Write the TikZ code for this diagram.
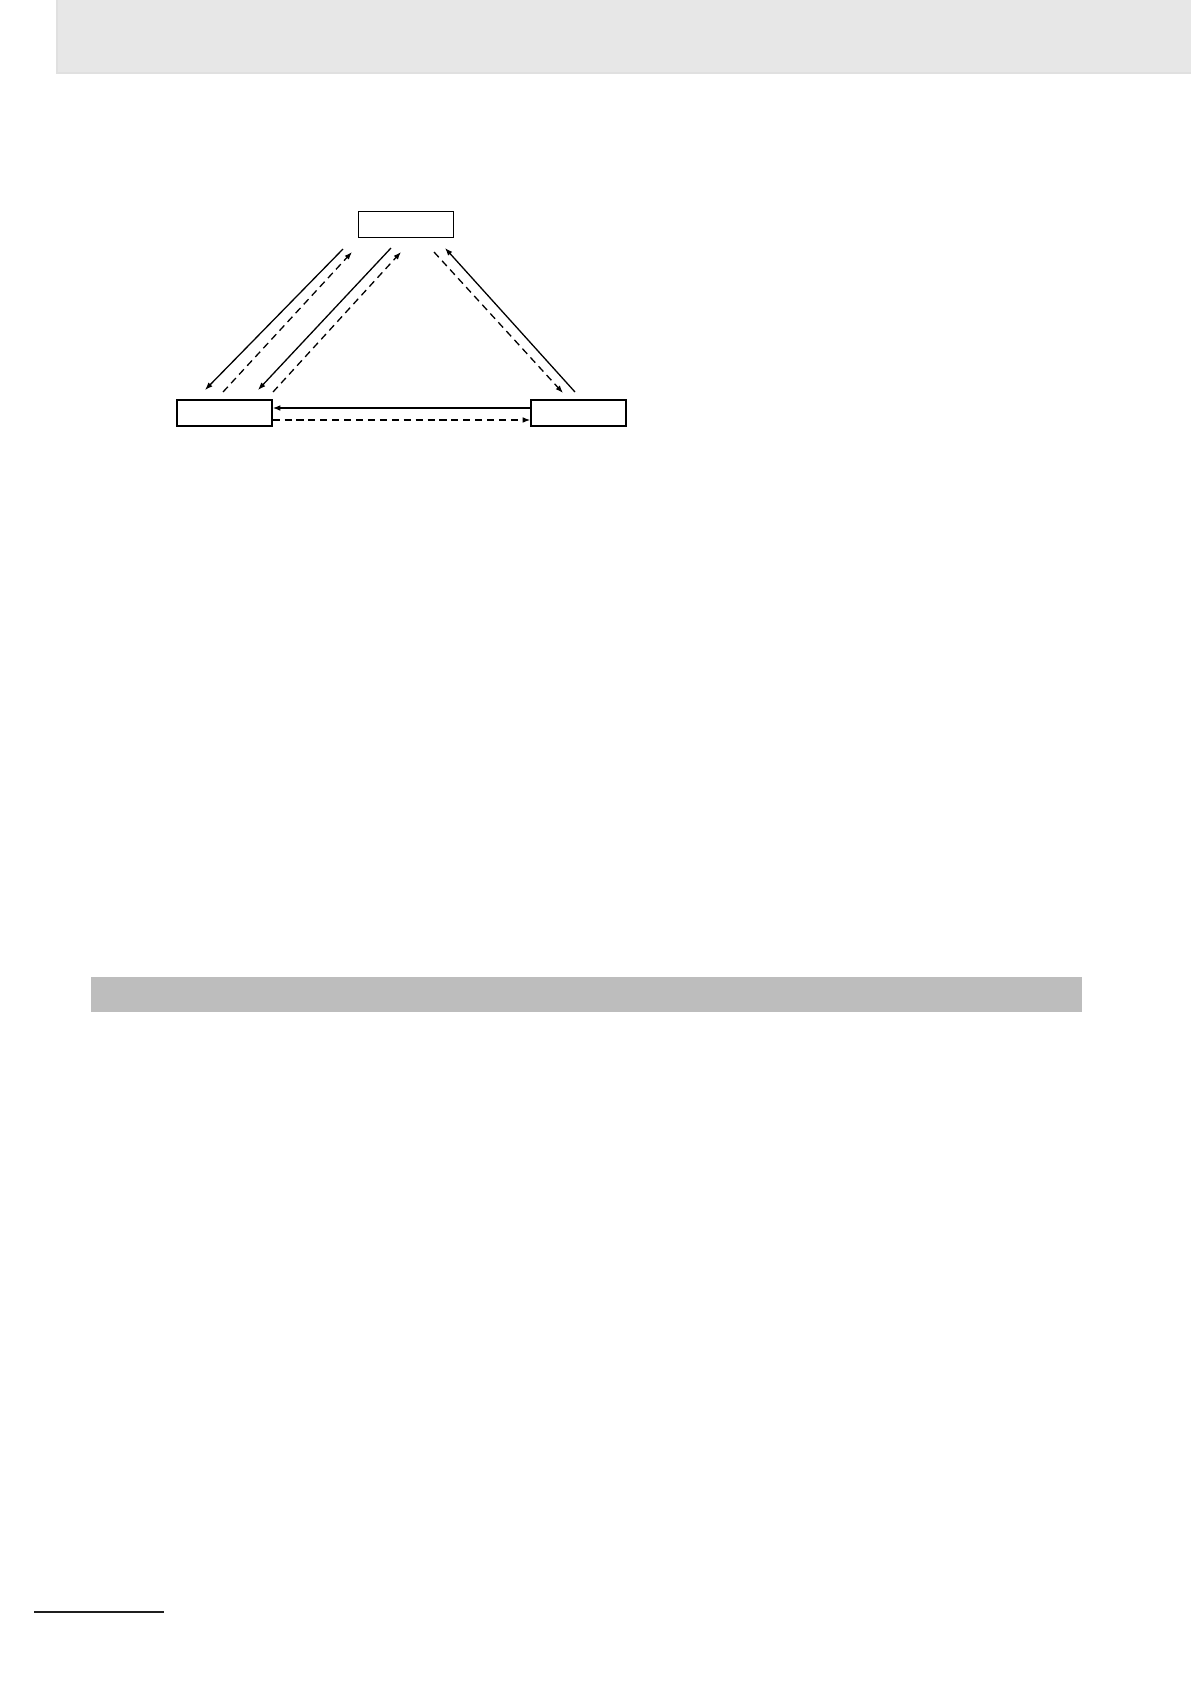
\documentclass[tikz,border=0pt]{standalone}
\usetikzlibrary{arrows.meta}
\definecolor{headgray}{HTML}{E7E7E7}
\definecolor{bargray}{HTML}{BDBDBD}
\begin{document}
\begin{tikzpicture}[
    x=0.1763mm, y=-0.1763mm,
    box/.style={draw, line width=0.8pt, minimum width=16.7mm, minimum height=4.6mm, inner sep=0pt},
    sline/.style={line width=0.65pt, -{Latex[length=1.35mm,width=1mm]}},
    dline/.style={sline, dash pattern=on 1.25mm off 0.85mm}
    ]
	\useasboundingbox (0,0) rectangle (1191,1684);
	\fill[headgray] (57,0) rectangle (1191,73);
	\draw[black!12, line width=0.6pt] (57,0) -- (57,73) -- (1191,73);
	\fill[bargray] (91,977) rectangle (1082,1012);
	\draw[black!88, line width=1pt] (34,1612) -- (164,1612);

	\node [box] (top) at (406,224.5) {};
	\node [box] (left) at (224.5,413) {};
	\node [box] (right) at (578.5,413) {};

	% free ends of the slanted connectors
	\coordinate (tl1) at (343,249);   \coordinate (lt1) at (205,390);
	\coordinate (lt2) at (223,392);   \coordinate (tl2) at (352,252);
	\coordinate (tl3) at (391,248);   \coordinate (lt3) at (258,390);
	\coordinate (lt4) at (273,392);   \coordinate (tl4) at (401,252);
	\coordinate (tr1) at (434,252);   \coordinate (rt1) at (563,393);
	\coordinate (rt2) at (575,392);   \coordinate (tr2) at (445,248);

	\draw [sline] (tl1) -- (lt1);
	\draw [dline] (lt2) -- (tl2);
	\draw [sline] (tl3) -- (lt3);
	\draw [dline] (lt4) -- (tl4);
	\draw [dline] (tr1) -- (rt1);
	\draw [sline] (rt2) -- (tr2);

	\draw [sline] ([yshift=0.88mm]right.west) -- ([yshift=0.88mm]left.east);
	\draw [dline] ([yshift=-1.23mm]left.east) -- ([yshift=-1.23mm]right.west);
\end{tikzpicture}
\end{document}
